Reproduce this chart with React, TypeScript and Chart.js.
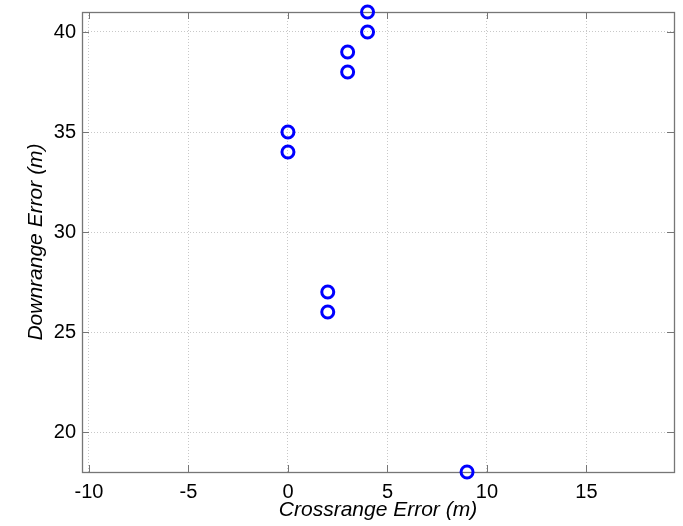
import React, { useEffect, useRef } from "react";
import { Chart, registerables } from "chart.js";

Chart.register(...registerables);

// ---- data ----
const crossrange = [4, 4, 3, 3, 0, 0, 2, 2, 9];
const downrange = [41, 40, 39, 38, 35, 34, 27, 26, 18];
const xTicks = [-10, -5, 0, 5, 10, 15];
const yTicks = [20, 25, 30, 35, 40];
const xRange = [-10.35, 19.4];
const yRange = [18, 41];
const xTitle = "Crossrange Error (m)";
const yTitle = "Downrange Error (m)";

const FONT = "'Liberation Sans', Arial, Helvetica, sans-serif";

const boxPlugin = {
  id: "matlabBox",
  beforeDatasetsDraw(chart: any) {
    const { ctx, chartArea, scales } = chart;
    const { left, right, top, bottom } = chartArea;
    const L = 7;
    ctx.save();
    ctx.strokeStyle = "#767676";
    ctx.lineWidth = 1;
    ctx.setLineDash([]);
    ctx.beginPath();
    for (const v of xTicks) {
      const x = Math.round(scales.x.getPixelForValue(v)) + 0.5;
      ctx.moveTo(x, bottom);
      ctx.lineTo(x, bottom - L);
      ctx.moveTo(x, top);
      ctx.lineTo(x, top + L);
    }
    for (const v of yTicks) {
      const y = Math.round(scales.y.getPixelForValue(v)) + 0.5;
      ctx.moveTo(left, y);
      ctx.lineTo(left + L, y);
      ctx.moveTo(right, y);
      ctx.lineTo(right - L, y);
    }
    ctx.stroke();
    ctx.lineWidth = 1.3;
    ctx.strokeRect(
      Math.round(left) + 0.5,
      Math.round(top) + 0.5,
      Math.round(right) - Math.round(left),
      Math.round(bottom) - Math.round(top)
    );
    ctx.restore();
  },
};

export default function App() {
  const ref = useRef<HTMLCanvasElement | null>(null);

  useEffect(() => {
    if (!ref.current) return;
    const points = crossrange.map((x, i) => ({ x, y: downrange[i] }));
    const chart = new Chart(ref.current, {
      type: "scatter",
      data: {
        datasets: [
          {
            data: points,
            showLine: false,
            pointStyle: "circle",
            pointRadius: 6,
            pointHoverRadius: 6,
            pointBorderWidth: 3,
            pointBorderColor: "#0000ff",
            pointBackgroundColor: "rgba(255,255,255,0)",
            clip: false as any,
          },
        ],
      },
      options: {
        responsive: false,
        animation: false,
        events: [],
        layout: { padding: { top: 12, right: 6, left: 0, bottom: 0 } },
        plugins: {
          legend: { display: false },
          tooltip: { enabled: false },
        },
        scales: {
          x: {
            type: "linear",
            min: xRange[0],
            max: xRange[1],
            afterBuildTicks: (s: any) => {
              s.ticks = xTicks.map((v) => ({ value: v }));
            },
            afterFit: (s: any) => {
              s.height = 54;
              s.paddingLeft = 0;
              s.paddingRight = 0;
            },
            grid: {
              color: "#c8c8c8",
              lineWidth: 1,
              drawTicks: false,
            },
            border: { display: false, dash: [1, 2] },
            ticks: {
              padding: 8,
              color: "#000",
              maxRotation: 0,
              autoSkip: false,
              font: { family: FONT, size: 20 },
            },
            title: {
              display: true,
              text: xTitle,
              color: "#000",
              font: { family: FONT, size: 21, style: "italic" },
              padding: { top: 0, bottom: 3 },
            },
          },
          y: {
            type: "linear",
            min: yRange[0],
            max: yRange[1],
            afterBuildTicks: (s: any) => {
              s.ticks = yTicks.map((v) => ({ value: v }));
            },
            afterFit: (s: any) => {
              s.width = 82;
              s.paddingTop = 0;
              s.paddingBottom = 0;
            },
            grid: {
              color: "#c8c8c8",
              lineWidth: 1,
              drawTicks: false,
            },
            border: { display: false, dash: [1, 2] },
            ticks: {
              padding: 6,
              color: "#000",
              autoSkip: false,
              font: { family: FONT, size: 20 },
            },
            title: {
              display: true,
              text: yTitle,
              color: "#000",
              font: { family: FONT, size: 21, style: "italic" },
              padding: { top: 24, bottom: 0 },
            },
          },
        },
      },
      plugins: [boxPlugin],
    });
    return () => chart.destroy();
  }, []);

  return (
    <div style={{ position: "absolute", left: 0, top: 0, width: 683, height: 526, background: "#fff" }}>
      <canvas ref={ref} width={683} height={526} style={{ display: "block" }} />
    </div>
  );
}
